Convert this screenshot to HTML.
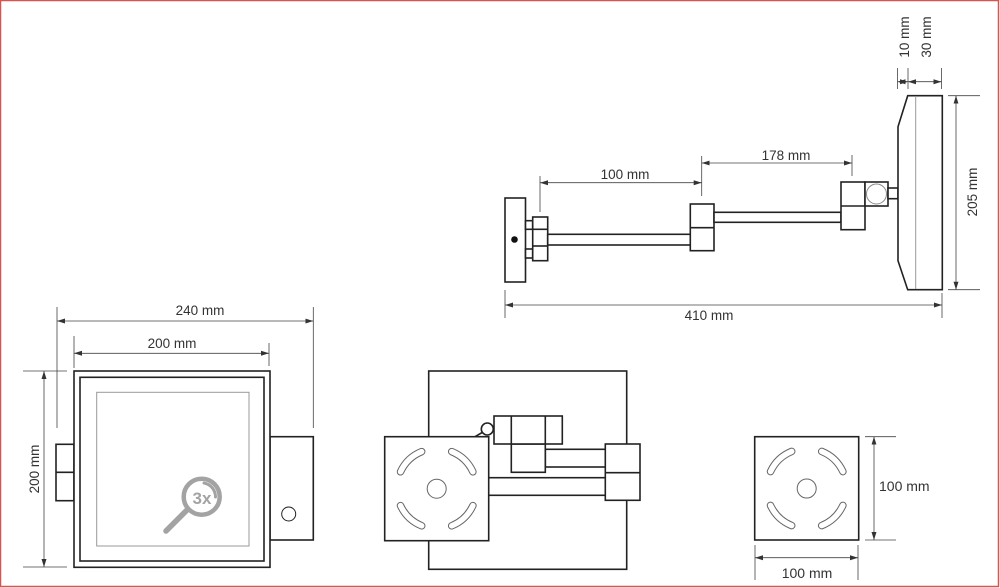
<!DOCTYPE html>
<html><head><meta charset="utf-8"><style>
html,body{margin:0;padding:0;background:#fff}
svg{display:block}
text{font-family:"Liberation Sans",sans-serif;fill:#333;font-size:13.5px}
</style></head><body>
<svg width="1000" height="588" viewBox="0 0 1000 588" xmlns="http://www.w3.org/2000/svg">
<defs>
<marker id="a" markerWidth="8" markerHeight="6" refX="8" refY="3" orient="auto-start-reverse" markerUnits="userSpaceOnUse"><path d="M0,0.5 L8,3 L0,5.5 z" fill="#333"/></marker>
</defs>
<rect x="0.5" y="0.5" width="998" height="586" fill="none" stroke="#d9534f" stroke-width="1.5"/>

<!-- TOP VIEW -->
<g fill="#fff" stroke="#222" stroke-width="1.6">
<rect x="505" y="198" width="20.5" height="84"/>
<rect x="525.5" y="220.7" width="7.2" height="8.6"/>
<rect x="525.5" y="249" width="7.2" height="9"/>
<rect x="532.7" y="217" width="15" height="43.7"/>
<line x1="532.7" y1="229.3" x2="547.7" y2="229.3"/>
<line x1="532.7" y1="246" x2="547.7" y2="246"/>
<rect x="547.7" y="234.3" width="142.6" height="10.7"/>
<rect x="690.3" y="204" width="23.7" height="46.7"/>
<line x1="690.3" y1="227.7" x2="714" y2="227.7"/>
<rect x="714" y="212.3" width="127" height="10"/>
<rect x="841" y="182" width="24" height="47.7"/>
<line x1="841" y1="206" x2="865" y2="206"/>
<rect x="865" y="182" width="23" height="24"/>
<rect x="888" y="188" width="10" height="10.7"/>
<path d="M907.7,95.7 L942.3,95.7 L942.3,289.7 L907.7,289.7 L898,260.7 L898,126.7 Z"/>
</g>
<circle cx="876.5" cy="194" r="10" fill="none" stroke="#888" stroke-width="1"/>
<line x1="915.7" y1="96" x2="915.7" y2="289" stroke="#999" stroke-width="1"/>
<circle cx="514.5" cy="239.5" r="3.3" fill="#111"/>

<g stroke="#444" stroke-width="0.8" fill="none">
<line x1="540" y1="176" x2="540" y2="212"/><line x1="701.7" y1="156" x2="701.7" y2="196"/>
<line x1="852" y1="155" x2="852" y2="176"/>
<line x1="540" y1="182.7" x2="701.7" y2="182.7" marker-start="url(#a)" marker-end="url(#a)"/>
<line x1="701.7" y1="163" x2="852" y2="163" marker-start="url(#a)" marker-end="url(#a)"/>
<line x1="505" y1="290" x2="505" y2="318"/><line x1="942" y1="293" x2="942" y2="318"/>
<line x1="505" y1="305" x2="942" y2="305" marker-start="url(#a)" marker-end="url(#a)"/>
<line x1="897.5" y1="68" x2="897.5" y2="89"/><line x1="908" y1="68" x2="908" y2="89"/><line x1="941.5" y1="68" x2="941.5" y2="89"/>
<line x1="897.5" y1="81.7" x2="908" y2="81.7" marker-start="url(#a)" marker-end="url(#a)"/>
<line x1="908" y1="81.7" x2="941.5" y2="81.7" marker-start="url(#a)" marker-end="url(#a)"/>
<line x1="948" y1="95.7" x2="980" y2="95.7"/><line x1="948" y1="289.7" x2="980" y2="289.7"/>
<line x1="956" y1="95.7" x2="956" y2="289.7" marker-start="url(#a)" marker-end="url(#a)"/>
</g>
<text x="625" y="179" text-anchor="middle">100 mm</text>
<text x="786" y="160" text-anchor="middle">178 mm</text>
<text x="709" y="320" text-anchor="middle">410 mm</text>
<text transform="translate(909,37) rotate(-90)" text-anchor="middle">10 mm</text>
<text transform="translate(931,37) rotate(-90)" text-anchor="middle">30 mm</text>
<text transform="translate(977,192) rotate(-90)" text-anchor="middle">205 mm</text>

<!-- FRONT VIEW -->
<g fill="#fff" stroke="#222" stroke-width="1.6">
<rect x="56" y="444.3" width="18" height="56.4"/>
<line x1="56" y1="472.3" x2="74" y2="472.3"/>
<rect x="270" y="436.7" width="43.3" height="103.3"/>
<rect x="74" y="371" width="196" height="196.3"/>
<rect x="80" y="377.3" width="184" height="183.7"/>
</g>
<rect x="96.7" y="392.3" width="152.3" height="153.7" fill="none" stroke="#999" stroke-width="1"/>
<circle cx="288.7" cy="514" r="7" fill="none" stroke="#222" stroke-width="1"/>
<g stroke="#a3a3a3" fill="none" stroke-linecap="round">
<circle cx="201.7" cy="496.7" r="18" stroke-width="4.5"/>
<path d="M204,483 A14,14 0 0 1 215.5,497" stroke-width="3"/>
<line x1="187" y1="510" x2="166" y2="531" stroke-width="5.5"/>
</g>
<text x="202" y="504" text-anchor="middle" style="font-size:17px;font-weight:bold;fill:#a3a3a3">3x</text>
<g stroke="#444" stroke-width="0.8" fill="none">
<line x1="57" y1="307" x2="57" y2="428"/><line x1="313.3" y1="307" x2="313.3" y2="428"/>
<line x1="57" y1="321" x2="313.3" y2="321" marker-start="url(#a)" marker-end="url(#a)"/>
<line x1="74" y1="336" x2="74" y2="368"/><line x1="269" y1="343" x2="269" y2="366"/>
<line x1="74" y1="353.3" x2="269" y2="353.3" marker-start="url(#a)" marker-end="url(#a)"/>
<line x1="23" y1="371" x2="67" y2="371"/><line x1="23" y1="567" x2="67" y2="567"/>
<line x1="44" y1="371" x2="44" y2="567" marker-start="url(#a)" marker-end="url(#a)"/>
</g>
<text x="200" y="315" text-anchor="middle">240 mm</text>
<text x="172" y="348" text-anchor="middle">200 mm</text>
<text transform="translate(39,469) rotate(-90)" text-anchor="middle">200 mm</text>

<!-- SIDE VIEW -->
<g fill="#fff" stroke="#222" stroke-width="1.6">
<rect x="428.7" y="371" width="198" height="198.3"/>
<rect x="545.3" y="449.3" width="60" height="17.7"/>
<rect x="488.7" y="477.7" width="116.6" height="17.6"/>
<rect x="511.3" y="444" width="34" height="28.3"/>
<rect x="494" y="416" width="68.3" height="28"/>
<line x1="511.3" y1="416" x2="511.3" y2="444"/><line x1="545.3" y1="416" x2="545.3" y2="444"/>
<rect x="605.3" y="444" width="34.7" height="56.3"/>
<line x1="605.3" y1="472.7" x2="640" y2="472.7"/>
<line x1="475" y1="436.7" x2="483" y2="432"/>
<circle cx="487.3" cy="429" r="6"/>
<rect x="384.7" y="436.7" width="104" height="104"/>
<rect x="754.7" y="436.7" width="104" height="103.3"/>
</g>
<g fill="none" stroke-linecap="round">
<g stroke="#666" stroke-width="7.5">
<path d="M400.5,471.8 A40,40 0 0 1 421.7,451.6"/><path d="M451.7,451.6 A40,40 0 0 1 472.9,471.8"/>
<path d="M400.5,505.6 A40,40 0 0 0 421.7,525.8"/><path d="M451.7,525.8 A40,40 0 0 0 472.9,505.6"/>
<path d="M770.5,471.6 A40,40 0 0 1 791.7,451.4"/><path d="M821.7,451.4 A40,40 0 0 1 842.9,471.6"/>
<path d="M770.5,505.4 A40,40 0 0 0 791.7,525.6"/><path d="M821.7,525.6 A40,40 0 0 0 842.9,505.4"/>
</g>
<g stroke="#fff" stroke-width="5.5">
<path d="M400.5,471.8 A40,40 0 0 1 421.7,451.6"/><path d="M451.7,451.6 A40,40 0 0 1 472.9,471.8"/>
<path d="M400.5,505.6 A40,40 0 0 0 421.7,525.8"/><path d="M451.7,525.8 A40,40 0 0 0 472.9,505.6"/>
<path d="M770.5,471.6 A40,40 0 0 1 791.7,451.4"/><path d="M821.7,451.4 A40,40 0 0 1 842.9,471.6"/>
<path d="M770.5,505.4 A40,40 0 0 0 791.7,525.6"/><path d="M821.7,525.6 A40,40 0 0 0 842.9,505.4"/>
</g>
</g>
<circle cx="436.7" cy="488.7" r="9.5" fill="none" stroke="#666" stroke-width="1"/>
<circle cx="806.7" cy="488.5" r="9.5" fill="none" stroke="#666" stroke-width="1"/>

<!-- RIGHT PLATE DIMS -->
<g stroke="#444" stroke-width="0.8" fill="none">
<line x1="865" y1="436.7" x2="896" y2="436.7"/><line x1="865" y1="540" x2="896" y2="540"/>
<line x1="874" y1="436.7" x2="874" y2="540" marker-start="url(#a)" marker-end="url(#a)"/>
<line x1="755" y1="545" x2="755" y2="580"/><line x1="858" y1="545" x2="858" y2="580"/>
<line x1="755" y1="557.7" x2="858" y2="557.7" marker-start="url(#a)" marker-end="url(#a)"/>
</g>
<text x="879" y="491" style="font-size:14px">100 mm</text>
<text x="807" y="578" text-anchor="middle" style="font-size:14px">100 mm</text>
</svg>
</body></html>
